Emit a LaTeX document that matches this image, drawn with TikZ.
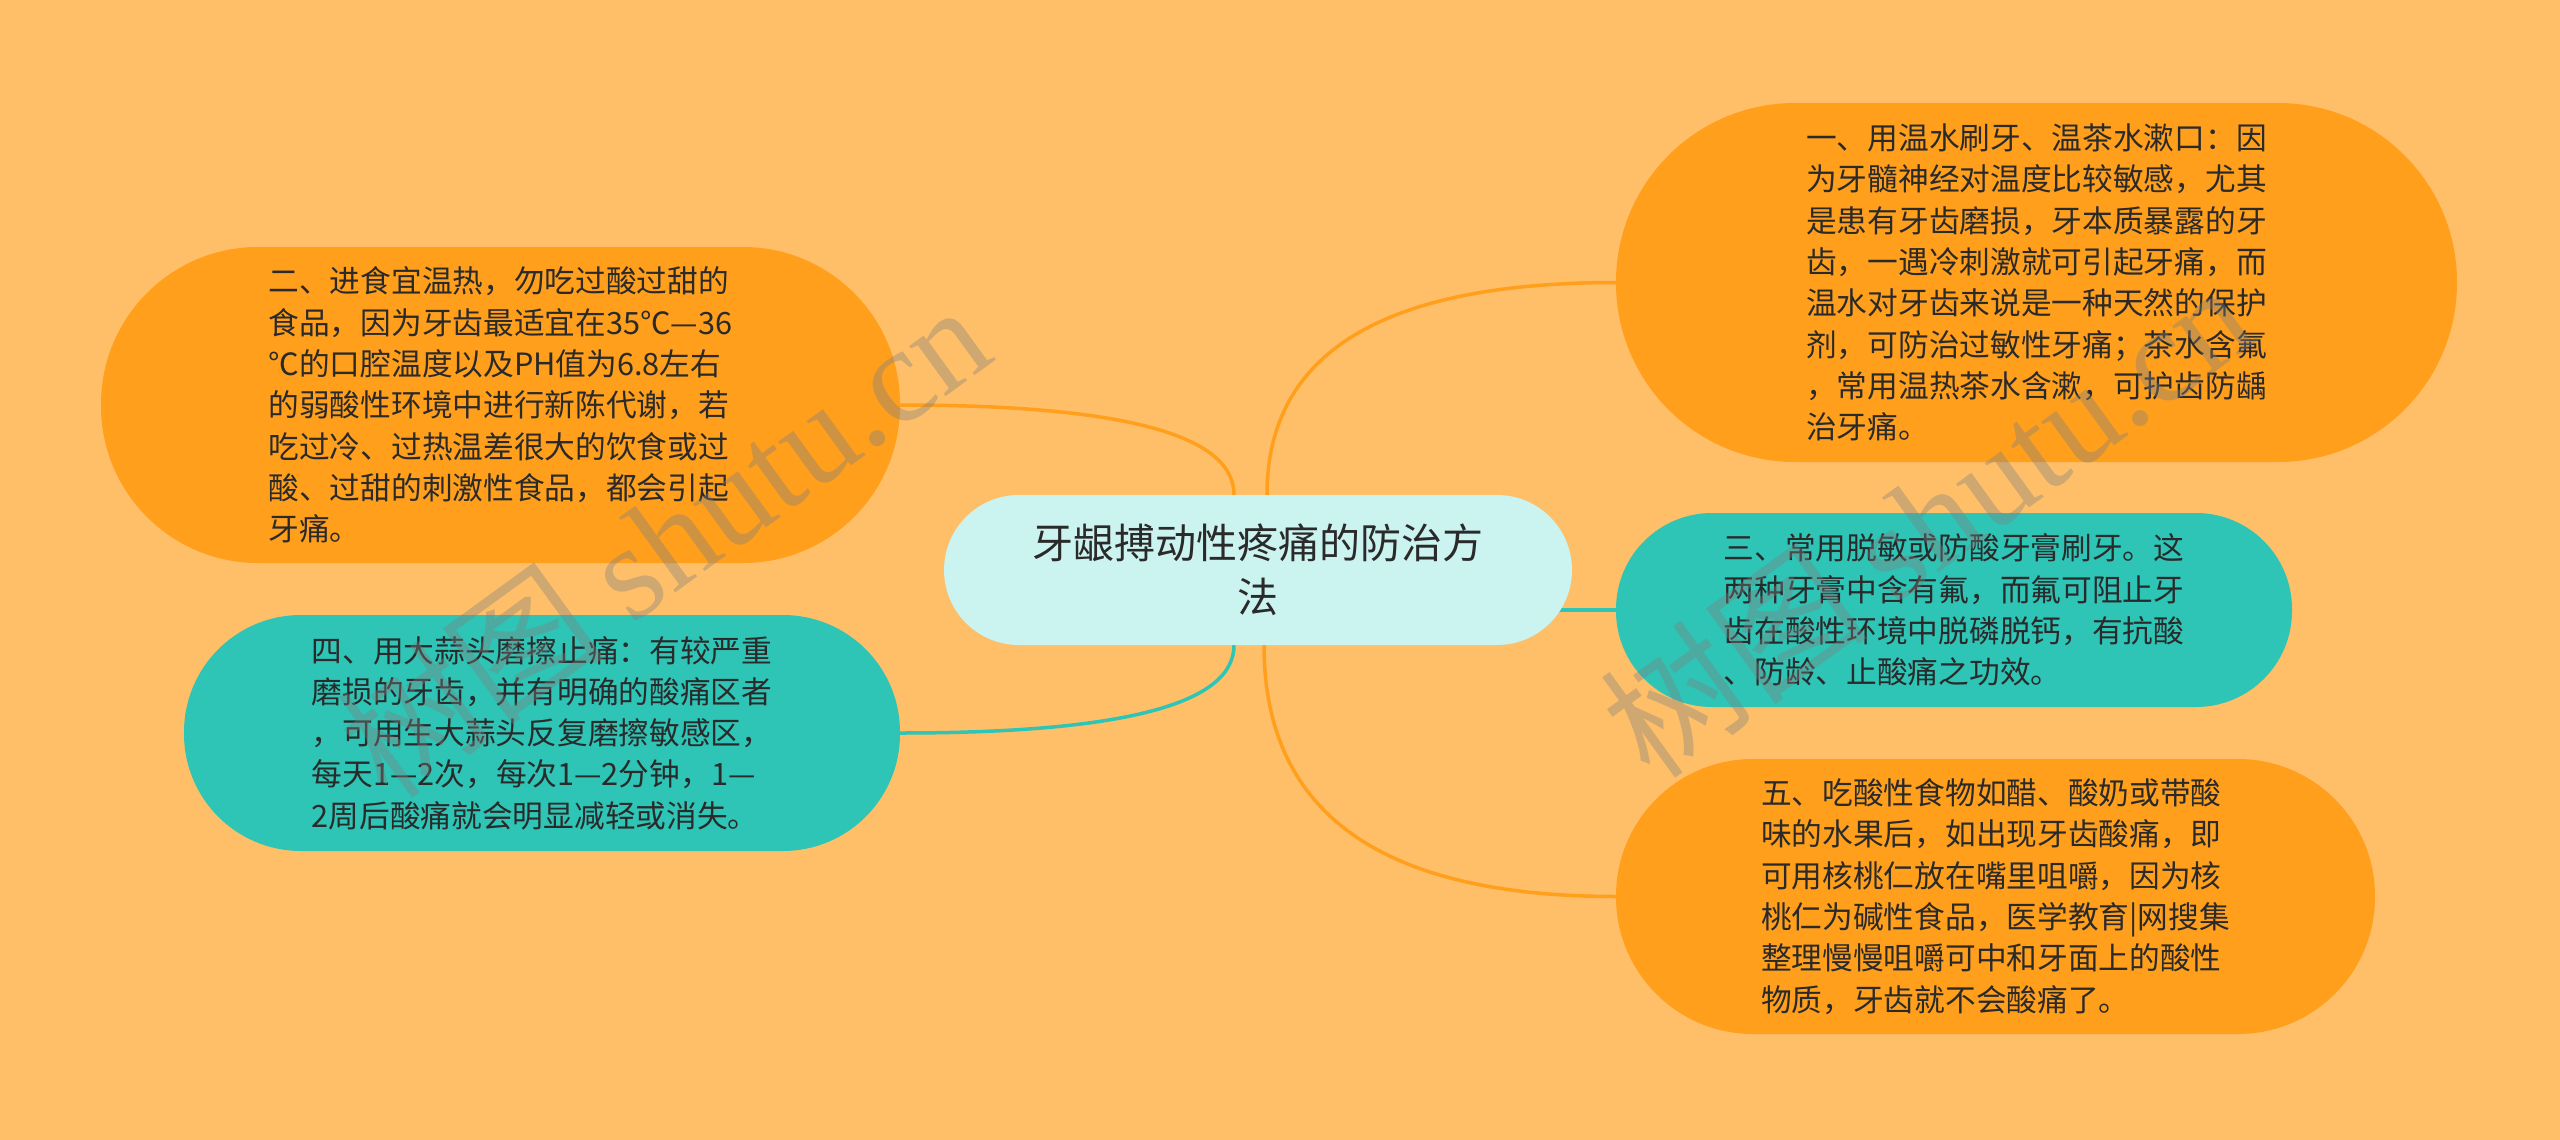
\documentclass[tikz,border=0pt]{standalone}
\usepackage{fontspec}
\setmainfont{Noto Sans CJK SC}
\newfontfamily\wmserif{Liberation Serif}
\usetikzlibrary{calc}
\pgfdeclarelayer{back}
\pgfdeclarelayer{mid}
\pgfsetlayers{back,mid,main}
\definecolor{bgc}{HTML}{FFBF69}
\definecolor{orng}{HTML}{FF9F1C}
\definecolor{tealc}{HTML}{2EC4B6}
\definecolor{cyanl}{HTML}{CBF3F0}
\definecolor{txt}{HTML}{2A2A2A}
\begin{document}
\begin{tikzpicture}[x=1pt,y=-1pt,
  body/.style={font=\fontsize{30.7pt}{41.3pt}\selectfont, text=txt, align=left, inner sep=0pt},
  orangebox/.style={body, fill=orng},
  tealbox/.style={body, fill=tealc},
  rootbox/.style={fill=cyanl, font=\fontsize{41pt}{54pt}\selectfont, text=txt, align=center,
    inner sep=0pt, minimum width=628pt, minimum height=150pt, rounded corners=75pt},
  olink/.style={draw=orng, line width=3.5pt},
  tlink/.style={draw=tealc, line width=3.5pt},
  wm/.style={text=gray, text opacity=0.38, inner sep=0pt, font=\fontsize{135pt}{145pt}\selectfont}
]
\useasboundingbox (0,0) rectangle (2560,1140);
\begin{pgfonlayer}{back}
\fill[bgc] (0,0) rectangle (2560,1140);
\end{pgfonlayer}

\node[rootbox] (c) at (1258,570) {牙龈搏动性疼痛的防治方\\法};

\node[orangebox, minimum width=841pt, minimum height=359pt, rounded corners=179pt] (n1) at (2036.5,282.5)
{一、用温水刷牙、温茶水漱口：因\\为牙髓神经对温度比较敏感，尤其\\是患有牙齿磨损，牙本质暴露的牙\\齿，一遇冷刺激就可引起牙痛，而\\温水对牙齿来说是一种天然的保护\\剂，可防治过敏性牙痛；茶水含氟\\，常用温热茶水含漱，可护齿防龋\\治牙痛。};

\node[orangebox, minimum width=799pt, minimum height=316pt, rounded corners=157pt] (n2) at (500.5,405)
{二、进食宜温热，勿吃过酸过甜的\\食品，因为牙齿最适宜在35℃—36\\℃的口腔温度以及PH值为6.8左右\\的弱酸性环境中进行新陈代谢，若\\吃过冷、过热温差很大的饮食或过\\酸、过甜的刺激性食品，都会引起\\牙痛。};

\node[tealbox, minimum width=716pt, minimum height=236pt, rounded corners=117pt] (n3) at (542,733)
{四、用大蒜头磨擦止痛：有较严重\\磨损的牙齿，并有明确的酸痛区者\\，可用生大蒜头反复磨擦敏感区，\\每天1—2次，每次1—2分钟，1—\\2周后酸痛就会明显减轻或消失。};

\node[tealbox, minimum width=676pt, minimum height=194pt, rounded corners=96pt] (n4) at (1954,610)
{三、常用脱敏或防酸牙膏刷牙。这\\两种牙膏中含有氟，而氟可阻止牙\\齿在酸性环境中脱磷脱钙，有抗酸\\、防龄、止酸痛之功效。};

\node[orangebox, minimum width=759pt, minimum height=275pt, rounded corners=137pt] (n5) at (1995.5,896.5)
{五、吃酸性食物如醋、酸奶或带酸\\味的水果后，如出现牙齿酸痛，即\\可用核桃仁放在嘴里咀嚼，因为核\\桃仁为碱性食品，医学教育|网搜集\\整理慢慢咀嚼可中和牙面上的酸性\\物质，牙齿就不会酸痛了。};

\begin{pgfonlayer}{mid}
\draw[olink] ($(c.north)+(9,0)$) .. controls ($(c.north)+(9,-142)$) and ($(n1.west)+(-233,0)$) .. (n1.west);
\draw[olink] (n2.east) .. controls ($(n2.east)+(223,0)$) and ($(c.north)+(-24,-60)$) .. ($(c.north)+(-24,0)$);
\draw[tlink] (n3.east) .. controls ($(n3.east)+(223,0)$) and ($(c.south)+(-24,59)$) .. ($(c.south)+(-24,0)$);
\draw[tlink] (c.center |- n4.west) -- (n4.west);
\draw[olink] ($(c.south)+(6,0)$) .. controls ($(c.south)+(6,168)$) and ($(n5.west)+(-235,0)$) .. (n5.west);
\end{pgfonlayer}

\node[wm, rotate=36] (w1) at (663,539) {树图 {\wmserif shutu.cn}};
\node[wm, rotate=36] (w2) at (1926,519) {树图 {\wmserif shutu.cn}};
\end{tikzpicture}
\end{document}
